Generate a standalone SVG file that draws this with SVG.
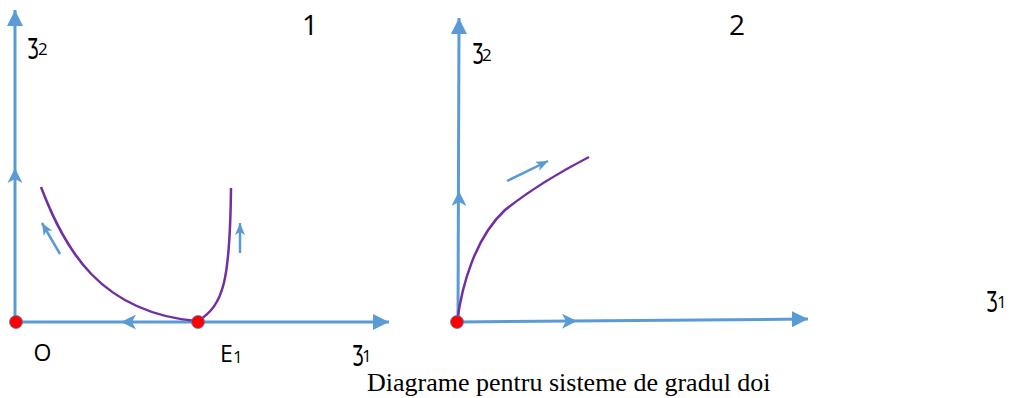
<svg xmlns="http://www.w3.org/2000/svg" width="1015" height="398" viewBox="0 0 1015 398">
<style>
.axis{stroke:#5B9BD5;stroke-width:3;fill:none}
.small{stroke:#5B9BD5;stroke-width:2.5;fill:none}
.curve{stroke:#7030A0;stroke-width:2.5;fill:none}
.mid{fill:#5B9BD5}
.dot{fill:#FF0000;stroke:#4A7EBB;stroke-width:0.8}
.lbl{font-family:"Open Sans","DejaVu Sans",sans-serif;font-size:23px;fill:#000}
.ezh{font-family:"DejaVu Sans",sans-serif;font-size:28px;fill:#000}
.sub{font-family:"Open Sans","DejaVu Sans",sans-serif;font-size:17px;fill:#000}
.num{font-family:"Open Sans","DejaVu Sans",sans-serif;font-size:28px;fill:#000;text-anchor:middle}
.cap{font-family:"Liberation Serif","Times New Roman",serif;font-size:26px;fill:#000}
</style>
<defs>
<marker id="tri" markerUnits="userSpaceOnUse" markerWidth="17" markerHeight="17" refX="16" refY="8" orient="auto">
<path d="M0,0 L16,8 L0,16 z" fill="#5B9BD5"/>
</marker>
<marker id="stl" markerUnits="userSpaceOnUse" markerWidth="13" markerHeight="11" refX="12" refY="5" orient="auto">
<path d="M0,0 L12,5 L0,10 L3,5 z" fill="#5B9BD5"/>
</marker>
<path id="midarrow" d="M0,0 L-15,-7.5 L-11,0 L-15,7.5 z" class="mid"/>
</defs>
<g id="connectors">
<path class="axis" d="M15,322 L15,10" marker-end="url(#tri)"/>
<path class="axis" d="M15,322 L389,322" marker-end="url(#tri)"/>
<use href="#midarrow" transform="translate(121,322) rotate(180)"/>
<use href="#midarrow" transform="translate(15,168) rotate(-90)"/>
<path class="curve" d="M41,187 C65,250 100,312 196,321"/>
<path class="curve" d="M198,321 C224,305 230,280 231,188"/>
<path class="small" d="M60,254 L42,223" marker-end="url(#stl)"/>
<path class="small" d="M240,253 L240,223" marker-end="url(#stl)"/>
<path class="axis" d="M458,322 L459,18" marker-end="url(#tri)"/>
<path class="axis" d="M458,322 L808,319" marker-end="url(#tri)"/>
<use href="#midarrow" transform="translate(577,321) rotate(-0.5)"/>
<use href="#midarrow" transform="translate(459,191) rotate(-90)"/>
<path class="curve" d="M457,322 C462,285 475,238 505,210 C530,190 560,172 589,157"/>
<path class="small" d="M507,181 L548,161" marker-end="url(#stl)"/>
</g>
<g id="node-O">
<circle class="dot" cx="16" cy="322" r="6.5"/>
<text class="lbl" x="42.5" y="361" text-anchor="middle">O</text>
</g>
<g id="node-E1">
<circle class="dot" cx="198" cy="322" r="6.5"/>
<text class="lbl" x="220" y="362">E</text>
<text class="sub" x="233" y="363">1</text>
</g>
<g id="node-origin2">
<circle class="dot" cx="457" cy="322" r="6.5"/>
</g>
<g id="label-z2-left">
<text class="ezh" transform="translate(27,59) scale(0.62,1)">Ʒ</text>
<text class="sub" x="38" y="55">2</text>
</g>
<g id="label-z1-left">
<text class="ezh" transform="translate(352,366) scale(0.62,1)">Ʒ</text>
<text class="sub" x="362" y="362">1</text>
</g>
<g id="label-z2-right">
<text class="ezh" transform="translate(472,64) scale(0.62,1)">Ʒ</text>
<text class="sub" x="482" y="61">2</text>
</g>
<g id="label-z1-right">
<text class="ezh" transform="translate(986,312) scale(0.62,1)">Ʒ</text>
<text class="sub" x="997" y="308">1</text>
</g>
<g id="titles">
<text class="num" x="310" y="35">1</text>
<text class="num" x="737" y="35">2</text>
<text class="cap" x="367" y="391">Diagrame pentru sisteme de gradul doi</text>
</g>
</svg>
